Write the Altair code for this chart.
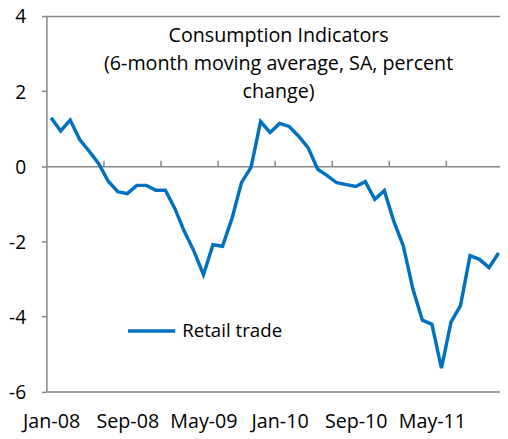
import altair as alt
import pandas as pd

# Retail trade, 6-month moving average, SA, percent change (Jan-08 .. Dec-11)
retail = [1.29, 0.94, 1.23, 0.71, 0.40, 0.07, -0.40, -0.68, -0.73, -0.51,
          -0.51, -0.64, -0.64, -1.13, -1.74, -2.26, -2.89, -2.09, -2.13, -1.39,
          -0.43, -0.03, 1.19, 0.90, 1.14, 1.06, 0.80, 0.49, -0.08, -0.25,
          -0.44, -0.49, -0.54, -0.41, -0.88, -0.65, -1.47, -2.13, -3.27, -4.10,
          -4.21, -5.38, -4.15, -3.71, -2.38, -2.48, -2.70, -2.31]
months = pd.date_range("2008-01-01", periods=len(retail), freq="MS").strftime("%b-%y").tolist()
label_months = ["Jan-08", "Sep-08", "May-09", "Jan-10", "Sep-10", "May-11"]
y_ticks = [-6, -4, -2, 0, 2, 4]
title_lines = ["Consumption Indicators", "(6-month moving average, SA, percent", "change)"]
series_name = "Retail trade"

df = pd.DataFrame({"i": list(range(len(retail))), "month": months,
                   "value": retail, "series": series_name})

label_idx = [months.index(m) for m in label_months]
tick_idx = [k - 0.5 for k in range(6, len(retail), 6)]
label_expr = "[" + ",".join(f"'{m}'" for m in months) + "][datum.value]"

FONT = "Open Sans"
GRAY = "#868686"
BLUE = "#0070C0"
W, H = 461, 381.6

xscale = alt.Scale(domain=[-0.5, 47.15], nice=False, zero=False)
yscale = alt.Scale(domain=[-6, 4], nice=False, zero=False)

line = alt.Chart(df).mark_line(strokeWidth=3.5).encode(
    x=alt.X("i:Q", scale=xscale, axis=alt.Axis(
        orient="bottom", values=label_idx, labelExpr=label_expr, ticks=False,
        grid=False, domain=True, domainColor=GRAY, domainWidth=1.5,
        labelFontSize=20, labelFont=FONT, labelColor="#000", labelPadding=37,
        labelBaseline="alphabetic", labelFlush=False, labelOverlap=False, title=None)),
    y=alt.Y("value:Q", scale=yscale, axis=alt.Axis(
        orient="left", values=y_ticks, grid=False, domain=True, domainColor=GRAY,
        domainWidth=1.5, ticks=True, tickColor=GRAY, tickWidth=1.5, tickSize=5,
        labelExpr="datum.value + ''", labelOffset=1,
        labelFontSize=19.5, labelFont=FONT, labelColor="#000", labelPadding=16, title=None)),
    color=alt.Color("series:N", scale=alt.Scale(range=[BLUE]), legend=alt.Legend(
        title=None, orient="none", legendX=81, legendY=294, symbolType="stroke",
        symbolSize=2304, symbolStrokeWidth=3.5, labelFontSize=19, labelFont=FONT,
        labelColor="#000", labelOffset=5, padding=0)),
)

guides = alt.Chart(df).mark_line(strokeOpacity=0).encode(
    x=alt.X("i:Q", scale=xscale, axis=alt.Axis(
        orient="top", offset=-152.6, values=tick_idx, labels=False, grid=False,
        domain=True, domainColor=GRAY, domainWidth=1.5, ticks=True, tickColor=GRAY,
        tickWidth=1.5, tickSize=6, title=None)),
    y=alt.Y("value:Q", scale=yscale, axis=alt.Axis(
        orient="right", values=[4], grid=True, gridColor=GRAY, gridWidth=1.5,
        gridOpacity=1, domain=False, ticks=False, labels=False, title=None)),
)

title = alt.Chart(pd.DataFrame({"a": [0]})).mark_text(
    text=title_lines, font=FONT, fontSize=20, color="#000", align="center",
    baseline="alphabetic", lineHeight=28.4,
).encode(x=alt.value(236), y=alt.value(26))

chart = alt.layer(guides, line, title).resolve_axis(
    x="independent", y="independent"
).properties(
    width=W, height=H,
    autosize=alt.AutoSizeParams(type="none"),
    padding={"left": 39, "top": 4.7, "right": 0, "bottom": 40.7},
).configure_view(stroke=None)

chart.save("out.html", embed_options={"renderer": "svg", "actions": False})
